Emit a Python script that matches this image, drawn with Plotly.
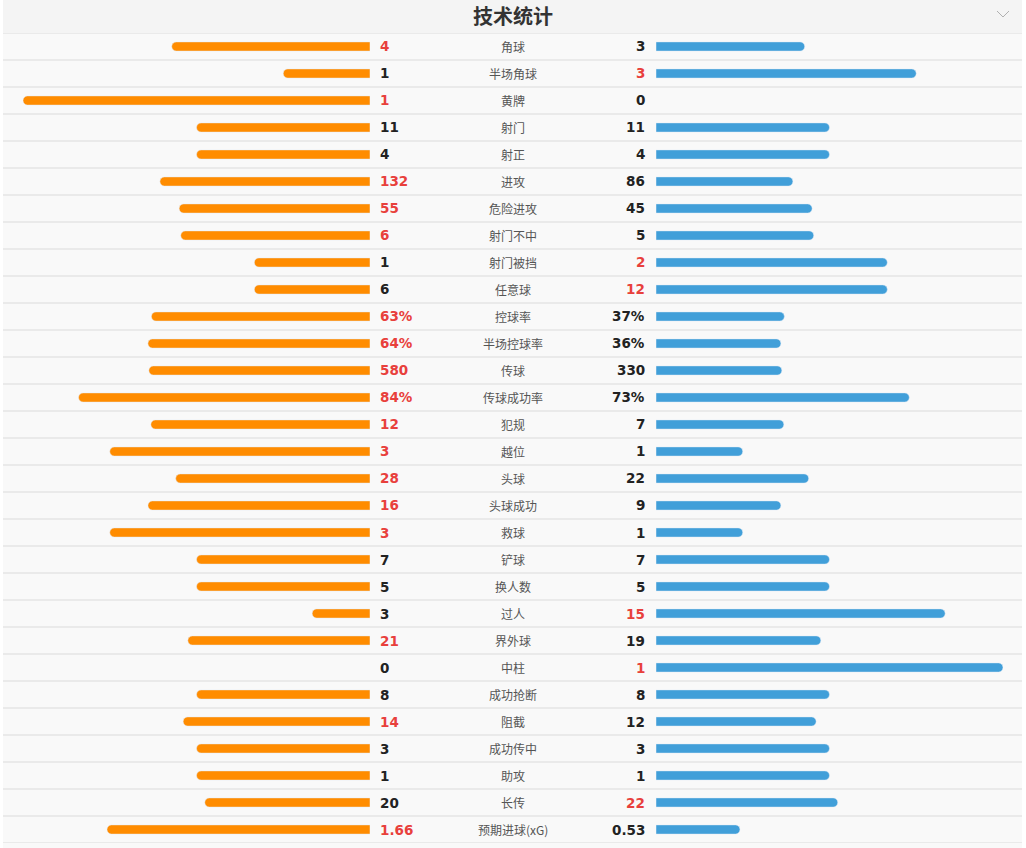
import plotly.graph_objects as go

title = "技术统计"
labels = ["角球", "半场角球", "黄牌", "射门", "射正", "进攻", "危险进攻", "射门不中", "射门被挡", "任意球",
          "控球率", "半场控球率", "传球", "传球成功率", "犯规", "越位", "头球", "头球成功", "救球", "铲球",
          "换人数", "过人", "界外球", "中柱", "成功抢断", "阻截", "成功传中", "助攻", "长传", "预期进球(xG)"]
home = [4, 1, 1, 11, 4, 132, 55, 6, 1, 6, 63, 64, 580, 84, 12, 3, 28, 16, 3, 7, 5, 3, 21, 0, 8, 14, 3, 1, 20, 1.66]
away = [3, 3, 0, 11, 4, 86, 45, 5, 2, 12, 37, 36, 330, 73, 7, 1, 22, 9, 1, 7, 5, 15, 19, 1, 8, 12, 3, 1, 22, 0.53]
is_pct = [False] * 10 + [True, True, False, True] + [False] * 16
home_txt = ["4", "1", "1", "11", "4", "132", "55", "6", "1", "6", "63%", "64%", "580", "84%", "12", "3", "28",
            "16", "3", "7", "5", "3", "21", "0", "8", "14", "3", "1", "20", "1.66"]
away_txt = ["3", "3", "0", "11", "4", "86", "45", "5", "2", "12", "37%", "36%", "330", "73%", "7", "1", "22",
            "9", "1", "7", "5", "15", "19", "1", "8", "12", "3", "1", "22", "0.53"]

ORANGE = "#ff8c00"
BLUE = "#419fd9"
RED = "#e8403c"
DARK = "#222222"
W, H = 1026, 848


def px(v):
    return v / W


def py(v):
    return 1 - v / H


home_share, away_share = [], []
for h, a, p in zip(home, away, is_pct):
    if p:
        hs, as_ = h / 100, a / 100
    else:
        t = h + a
        hs, as_ = (h / t, a / t) if t else (0, 0)
    home_share.append(hs if hs > 0 else None)
    away_share.append(as_ if as_ > 0 else None)

n = len(labels)
fig = go.Figure()
fig.add_trace(go.Bar(y=labels, x=home_share, orientation="h", xaxis="x", yaxis="y",
                     marker=dict(color=ORANGE, cornerradius=5), width=0.34, hoverinfo="skip"))
fig.add_trace(go.Bar(y=labels, x=away_share, orientation="h", xaxis="x2", yaxis="y",
                     marker=dict(color=BLUE, cornerradius=5), width=0.34, hoverinfo="skip"))

shapes = [
    dict(type="rect", xref="paper", yref="paper", x0=px(3), x1=px(1022), y0=py(33), y1=1,
         fillcolor="#f4f4f4", line_width=0, layer="below"),
    dict(type="rect", xref="paper", yref="paper", x0=px(3), x1=px(1022), y0=0, y1=py(33),
         fillcolor="#f9f9f9", line_width=0, layer="below"),
    dict(type="path", xref="paper", yref="paper",
         path=f"M {px(997)} {py(11)} L {px(1003)} {py(17)} L {px(1009)} {py(11)}",
         line=dict(color="#b0b0b0", width=1)),
]
for i in range(n + 1):
    shapes.append(dict(type="line", xref="paper", yref="y", x0=px(3), x1=px(1022), y0=i - 0.5, y1=i - 0.5,
                       line=dict(color="#e4e4e4", width=1.5), layer="below"))

num_font = dict(family="DejaVu Sans, Verdana", size=13.5, weight="bold")
annotations = [dict(text=title, xref="paper", yref="paper", x=px(513), y=py(15), xanchor="center",
                    yanchor="middle", showarrow=False,
                    font=dict(family="Noto Sans CJK SC", size=20, color="#333333", weight="bold"))]
for lab, h, a, ht, at in zip(labels, home, away, home_txt, away_txt):
    annotations.append(dict(text=ht, xref="paper", yref="y", x=px(378), y=lab, xanchor="left",
                            yanchor="middle", showarrow=False,
                            font=dict(num_font, color=RED if h > a else DARK)))
    annotations.append(dict(text=at, xref="paper", yref="y", x=px(647), y=lab, xanchor="right",
                            yanchor="middle", showarrow=False,
                            font=dict(num_font, color=RED if a > h else DARK)))
    annotations.append(dict(text=lab, xref="paper", yref="y", x=px(513), y=lab, xanchor="center",
                            yanchor="middle", showarrow=False,
                            font=dict(family="Noto Sans CJK SC", size=12, color="#555555")))

fig.update_layout(
    width=W, height=H, margin=dict(l=0, r=0, t=0, b=0),
    paper_bgcolor="white", plot_bgcolor="rgba(0,0,0,0)", showlegend=False, barmode="overlay",
    xaxis=dict(domain=[px(23), px(370)], range=[1, 0], visible=False, fixedrange=True, anchor="y"),
    xaxis2=dict(domain=[px(656), px(1003)], range=[0, 1], visible=False, fixedrange=True, anchor="y"),
    yaxis=dict(domain=[py(843), py(33)], type="category", categoryorder="array",
               categoryarray=labels, range=[n - 0.5, -0.5], visible=False, fixedrange=True),
    shapes=shapes, annotations=annotations,
)
fig.write_html("out.html", config={"displayModeBar": False})
